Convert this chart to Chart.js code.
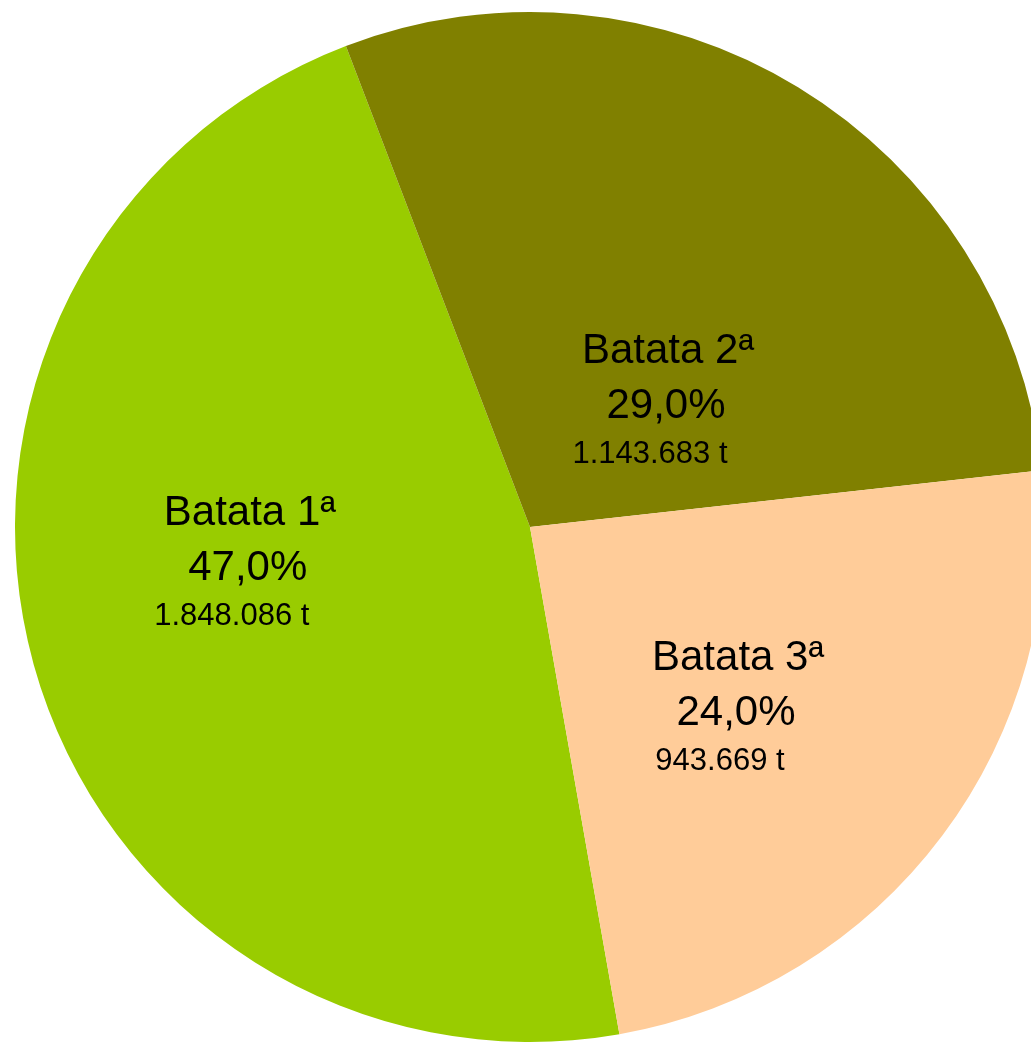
<!DOCTYPE html>
<html>
<head>
<meta charset="utf-8">
<script src="https://cdn.jsdelivr.net/npm/chart.js@4/dist/chart.umd.min.js"></script>
<style>
  html, body { margin: 0; padding: 0; background: #ffffff; overflow: hidden; width: 1031px; height: 1042px; }
  canvas { display: block; }
</style>
</head>
<body>
<canvas id="c" width="1060" height="1054"></canvas>
<script>
// ---- data ----
const categories = ['Batata 1ª', 'Batata 2ª', 'Batata 3ª'];
const tonnes = [1848086, 1143683, 943669];
const percentLabels = ['47,0%', '29,0%', '24,0%'];
const colors = ['#99CC00', '#808000', '#FFCC99'];

// label anchor offsets (fractions of radius, relative to pie centre)
const labelOffsetX = [-0.548, 0.264, 0.400];
const labelOffsetY = [0.103, -0.212, 0.384];

function fmtThousands(n) {
  return String(n).replace(/\B(?=(\d{3})+(?!\d))/g, '.');
}

const labelPlugin = {
  id: 'sliceLabels',
  afterDatasetsDraw(chart) {
    const ctx = chart.ctx;
    const meta = chart.getDatasetMeta(0);
    ctx.save();
    ctx.fillStyle = '#000000';
    ctx.textAlign = 'center';
    ctx.textBaseline = 'alphabetic';
    meta.data.forEach((arc, i) => {
      const r = arc.outerRadius;
      const x = arc.x + labelOffsetX[i] * r;
      const y = arc.y + labelOffsetY[i] * r;
      ctx.font = '42px "Liberation Sans", Arial, sans-serif';
      ctx.fillText(categories[i], x + 2, y - 55);
      ctx.fillText(percentLabels[i], x, y);
      ctx.font = '31px "Liberation Sans", Arial, sans-serif';
      ctx.fillText(fmtThousands(tonnes[i]) + ' t', x - 16, y + 45);
    });
    ctx.restore();
  }
};

new Chart(document.getElementById('c'), {
  type: 'pie',
  data: {
    labels: categories,
    datasets: [{
      data: tonnes,
      backgroundColor: colors,
      borderWidth: 0
    }]
  },
  options: {
    responsive: false,
    animation: false,
    rotation: 170,
    layout: { padding: 12 },
    plugins: {
      legend: { display: false },
      tooltip: { enabled: false }
    }
  },
  plugins: [labelPlugin]
});
</script>
</body>
</html>
